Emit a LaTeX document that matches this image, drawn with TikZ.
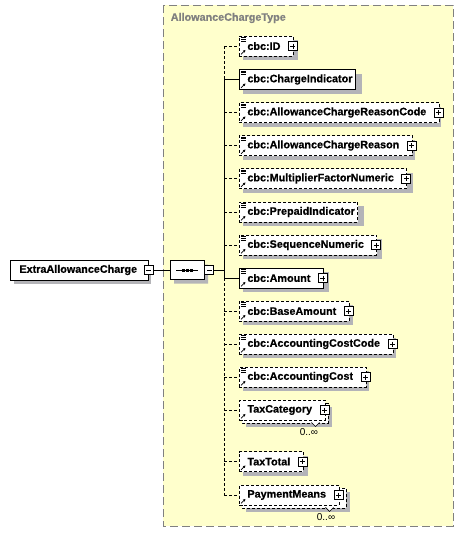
\documentclass[tikz,border=0pt]{standalone}
\usepackage{fontspec}
\setmainfont[BoldFeatures={FakeBold=0.6}]{Liberation Sans}
\usetikzlibrary{positioning, arrows.meta, shapes.misc}

\definecolor{shadowgray}{RGB}{180,180,184}
\definecolor{typeyellow}{RGB}{255,255,204}
\definecolor{typeborder}{RGB}{128,128,128}

\newcommand\elname[1]{\kern8pt#1\kern3pt}
\newcommand\elkids[1]{\kern8pt#1\kern13pt}

\begin{document}
\begin{tikzpicture}[
    x=1pt, y=-1pt,
    line width=0.9pt,
    font=\fontsize{10.8}{12}\selectfont\bfseries,
    typebox/.style={draw=typeborder, dash pattern=on 8pt off 4pt, fill=typeyellow},
    elem/.style={draw, fill=white, anchor=west, minimum height=20pt, inner xsep=0pt, inner ysep=0pt},
    req/.style={elem},
    opt/.style={elem, dash pattern=on 3pt off 2pt},
    link/.style={dash pattern=on 3pt off 2pt},
    shadowfill/.style={fill=shadowgray, draw=none},
    plusbox/.style={draw, solid, fill=white, minimum size=9pt, inner sep=0pt, line width=0.7pt,
        path picture={\draw[line width=0.7pt] ([yshift=-2pt]path picture bounding box.north) -- ([yshift=2pt]path picture bounding box.south)
                      ([xshift=2pt]path picture bounding box.west) -- ([xshift=-2pt]path picture bounding box.east);}},
    minusbox/.style={draw, fill=white, minimum size=9pt, inner sep=0pt, line width=0.7pt,
        path picture={\draw[line width=0.7pt] ([xshift=2pt]path picture bounding box.west) -- ([xshift=-2pt]path picture bounding box.east);}},
    seqbox/.style={chamfered rectangle, chamfered rectangle xsep=4pt, chamfered rectangle ysep=4pt,
        minimum width=34pt, minimum height=19pt, inner sep=0pt},
    occurs/.style={font=\fontsize{10}{12}\selectfont}
]
\useasboundingbox (0,0) rectangle (464,541);

% complex type area
\draw[typebox] (163,5) rectangle (453,526);
\node[anchor=west, text=typeborder] (typename) at (167,18) {AllowanceChargeType};

% shadows: plain rectangles at the box positions (boxes are drawn over them)
\fill[shadowfill] (14,265) rectangle (151,284);
\node[seqbox, shadowfill] (seq-shadow) at (191,274) {};
\foreach \y/\w in {46/55, 79.5/119, 112.5/198, 145.5/172, 178.5/170, 212/121,
                   245/139, 278/86, 311/110, 344/153, 377/126, 461.5/65}
    \fill[shadowfill] (243,\y-6) rectangle (243+\w,\y+14);
\foreach \y/\w in {410/86, 495/104} {
    \fill[shadowfill] (246,\y-3) rectangle (246+\w,\y+17);
    \draw[link, fill=white] (242,\y-7) rectangle (242+\w,\y+13);
}

% root element and sequence
\node[req] (ext) at (10,270) {\kern9pt ExtraAllowanceCharge\kern11pt};
\node[minusbox] (ext-minus) at (ext.east) {};
\node[seqbox, draw, fill=white] (seq) at (187,270) {};
\draw ([xshift=-11pt]seq.center) -- ([xshift=11pt]seq.center);
\foreach \d in {-4,0,4}
    \fill ([xshift=\d pt]seq.center) +(-1.5pt,-1.5pt) rectangle +(1.5pt,1.5pt);
\node[minusbox, anchor=west] (seq-minus) at (seq.east) {};
\coordinate (bus) at (224,270);

% children
\node[opt] (id)         at (239,46)    {\elkids{cbc:ID}};
\node[req] (chargeind)  at (239,79.5)  {\elname{cbc:ChargeIndicator}};
\node[opt] (reasoncode) at (239,112.5) {\elkids{cbc:AllowanceChargeReasonCode}};
\node[opt] (reason)     at (239,145.5) {\elkids{cbc:AllowanceChargeReason}};
\node[opt] (multiplier) at (239,178.5) {\elkids{cbc:MultiplierFactorNumeric}};
\node[opt] (prepaid)    at (239,212)   {\elname{cbc:PrepaidIndicator}};
\node[opt] (seqnum)     at (239,245)   {\elkids{cbc:SequenceNumeric}};
\node[req] (amount)     at (239,278)   {\elkids{cbc:Amount}};
\node[opt] (baseamount) at (239,311)   {\elkids{cbc:BaseAmount}};
\node[opt] (costcode)   at (239,344)   {\elkids{cbc:AccountingCostCode}};
\node[opt] (cost)       at (239,377)   {\elkids{cbc:AccountingCost}};
\node[opt] (taxcat)     at (239,410)   {\elkids{TaxCategory}};
\node[opt] (taxtotal)   at (239,461.5) {\elkids{TaxTotal}};
\node[opt] (paymeans)   at (239,495)   {\elkids{PaymentMeans}};

\foreach \n in {id, reasoncode, reason, multiplier, seqnum, amount, baseamount, costcode, cost, taxcat, taxtotal, paymeans}
    \node[plusbox] (\n-plus) at ([xshift=-1pt]\n.east) {};

% icons
\foreach \n in {id, chargeind, reasoncode, reason, multiplier, prepaid, seqnum, amount, baseamount, costcode, cost}
    \foreach \k in {2,3.7,5.4}
        \draw[solid, line width=0.6pt] ([shift={(2pt,-\k pt)}]\n.north west) -- ++(5pt,0pt);
\foreach \n in {id, chargeind, reasoncode, reason, multiplier, prepaid, seqnum, amount, baseamount, costcode, cost, taxcat, taxtotal, paymeans}
    \draw[solid, line width=0.7pt, -{Triangle[length=2.5pt, width=2.5pt]}] ([shift={(2pt,2pt)}]\n.south west) -- ++(4.5pt,4.5pt);

% occurrence
\foreach \n in {taxcat, paymeans}
    \draw[solid, line width=0.6pt, fill=white] ([xshift=-14pt,yshift=-2pt]\n.south east) -- ++(4pt,-4pt) -- ++(4pt,4pt);
\node[occurs] (taxcat-occ)   at (309,432) {0..∞};
\node[occurs] (paymeans-occ) at (326,517) {0..∞};

% connectors
\draw (ext-minus) -- (seq);
\draw (seq-minus) -- (bus);
\draw[link] (bus |- id.west) -- (bus |- chargeind.west);
\draw (bus |- chargeind.west) -- (bus |- amount.west);
\draw[link] (bus |- amount.west) -- (bus |- paymeans.west);
\foreach \n in {chargeind, amount}
    \draw (bus |- \n.west) -- (\n.west);
\foreach \n in {id, reasoncode, reason, multiplier, prepaid, seqnum, baseamount, costcode, cost, taxcat, taxtotal, paymeans}
    \draw[link] (bus |- \n.west) -- (\n.west);
\end{tikzpicture}
\end{document}
